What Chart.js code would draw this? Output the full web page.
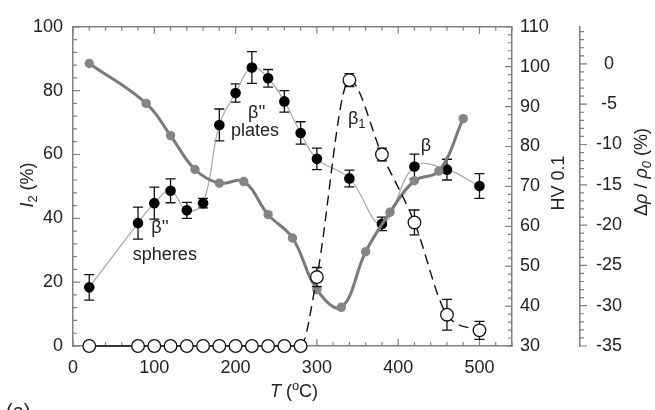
<!DOCTYPE html>
<html>
<head>
<meta charset="utf-8">
<script src="https://cdn.jsdelivr.net/npm/chart.js@4"></script>
<style>
  html, body { margin: 0; padding: 0; background: #fff; }
</style>
</head>
<body>
<canvas id="chart" width="655" height="410"></canvas>
<script>
// I2 (%) - open circles, dashed line (left axis)
const i2Temps = [20, 80, 100, 120, 140, 160, 180, 200, 220, 240, 260, 280, 300, 340, 380, 420, 460, 500];
const i2Values = [0, 0, 0, 0, 0, 0, 0, 0, 0, 0, 0, 0, 21.6, 83.3, 60, 38.7, 9.8, 4.9];
const i2Errors = [0, 0, 0, 0, 0, 0, 0, 0, 0, 0, 0, 0, 3, 2, 2, 3.9, 4.8, 2.8];

// HV 0.1 - black dots with error bars
const hvTemps = [20, 80, 100, 120, 140, 160, 180, 200, 220, 240, 260, 280, 300, 340, 380, 420, 460, 500];
const hvValues = [44.7, 60.8, 65.8, 68.9, 64.0, 65.8, 85.4, 93.4, 99.8, 97.1, 91.3, 83.4, 76.9, 72.0, 60.6, 75.0, 74.2, 70.1];
const hvErrors = [3.2, 4, 4, 3, 2, 1.2, 4, 2.3, 4, 2.2, 2.7, 2.8, 2.7, 2.1, 1.7, 3.1, 2.6, 3.1];

// resistivity change (%) - grey line
const rhoTemps = [20, 90, 120, 150, 180, 210, 240, 270, 300, 330, 360, 390, 420, 450, 480];
const rhoValues = [0.05, -4.9, -8.9, -13.1, -14.8, -14.6, -18.7, -21.6, -28.0, -30.2, -23.3, -18.4, -14.5, -13.3, -6.8];

// text labels inside the plot (T, I2 position)
const notes = [
  { text: "β''", sub: "", t: 107, v: 37 },
  { text: "spheres", sub: "", t: 113, v: 28.4 },
  { text: "β''", sub: "", t: 226, v: 73 },
  { text: "plates", sub: "", t: 224, v: 67.4 },
  { text: "β", sub: "1", t: 349, v: 71 },
  { text: "β", sub: "", t: 434, v: 62.6 }
];

const FONT = "'Liberation Sans', Arial, sans-serif";
const AXIS = "#808080";
const TEXT = "#222";

const pts = (xs, ys) => xs.map((x, i) => ({ x: x, y: ys[i] }));

// error bars, drawn just before each dataset
const errorBars = {
  id: "errorBars",
  beforeDatasetDraw(chart, args) {
    const ds = chart.data.datasets[args.index];
    if (!ds.errors) return;
    const ctx = chart.ctx;
    const xs = chart.scales.x, ys = chart.scales[ds.yAxisID];
    ctx.save();
    ctx.strokeStyle = "#111";
    ctx.lineWidth = 1.3;
    ds.data.forEach((p, i) => {
      const e = ds.errors[i];
      if (!e) return;
      const px = xs.getPixelForValue(p.x);
      const top = ys.getPixelForValue(p.y + e);
      const bot = ys.getPixelForValue(p.y - e);
      ctx.beginPath();
      ctx.moveTo(px, top); ctx.lineTo(px, bot);
      ctx.moveTo(px - 5, top); ctx.lineTo(px + 5, top);
      ctx.moveTo(px - 5, bot); ctx.lineTo(px + 5, bot);
      ctx.stroke();
    });
    ctx.restore();
  }
};

// inward major/minor ticks and top frame line (under the data)
const tickMarks = {
  id: "tickMarks",
  beforeDatasetsDraw(chart) {
    const { ctx, chartArea: a, scales } = chart;
    ctx.save();
    ctx.strokeStyle = AXIS;
    ctx.lineWidth = 1.5;
    ctx.beginPath();
    ctx.moveTo(a.left, a.top); ctx.lineTo(a.right, a.top);
    ctx.stroke();
    ctx.lineWidth = 1.2;
    const each = (scale, step, major, fn) => {
      const start = Math.ceil(scale.min / step - 1e-9);
      const end = Math.floor(scale.max / step + 1e-9);
      for (let k = start; k <= end; k++) {
        const v = k * step;
        const isMajor = Math.abs(v / major - Math.round(v / major)) < 1e-6;
        fn(scale.getPixelForValue(v), isMajor ? 7 : 4);
      }
    };
    ctx.beginPath();
    each(scales.x, 20, 100, (p, len) => {
      ctx.moveTo(p, a.bottom); ctx.lineTo(p, a.bottom - len);
      ctx.moveTo(p, a.top); ctx.lineTo(p, a.top + len);
    });
    each(scales.y, 4, 20, (p, len) => {
      ctx.moveTo(a.left, p); ctx.lineTo(a.left + len, p);
    });
    each(scales.hv, 2, 10, (p, len) => {
      ctx.moveTo(a.right, p); ctx.lineTo(a.right - len, p);
    });
    const r = scales.rho;
    each(r, 1, 5, (p, len) => {
      ctx.moveTo(r.left, p); ctx.lineTo(r.left + len, p);
    });
    ctx.stroke();
    ctx.restore();
  }
};

// draw a run of text pieces with mixed styles, centred on (0,0)
function drawPieces(ctx, pieces) {
  let total = 0;
  pieces.forEach(p => {
    ctx.font = p.font;
    p.w = ctx.measureText(p.t).width;
    total += p.w;
  });
  let x = -total / 2;
  pieces.forEach(p => {
    ctx.font = p.font;
    ctx.fillText(p.t, x, p.dy || 0);
    x += p.w;
  });
}

const textLayer = {
  id: "textLayer",
  afterDraw(chart) {
    const { ctx, scales } = chart;
    const n = "18px " + FONT, it = "italic 18px " + FONT, sm = "13px " + FONT, ism = "italic 13px " + FONT;
    ctx.save();
    ctx.fillStyle = TEXT;
    ctx.textBaseline = "middle";
    ctx.textAlign = "left";

    notes.forEach(nt => {
      ctx.save();
      ctx.translate(scales.x.getPixelForValue(nt.t), scales.y.getPixelForValue(nt.v));
      const pieces = [{ t: nt.text, font: n }];
      if (nt.sub) pieces.push({ t: nt.sub, font: sm, dy: 5 });
      drawPieces(ctx, pieces);
      ctx.restore();
    });

    // left title
    ctx.save();
    ctx.translate(28, 185);
    ctx.rotate(-Math.PI / 2);
    drawPieces(ctx, [{ t: "I", font: it }, { t: "2", font: sm, dy: 5 }, { t: " (%)", font: n }]);
    ctx.restore();

    // HV title
    ctx.save();
    ctx.translate(559, 183);
    ctx.rotate(-Math.PI / 2);
    drawPieces(ctx, [{ t: "HV 0.1", font: n }]);
    ctx.restore();

    // resistivity title
    ctx.save();
    ctx.translate(642, 172);
    ctx.rotate(-Math.PI / 2);
    drawPieces(ctx, [
      { t: "Δ", font: n }, { t: "ρ", font: it }, { t: " / ", font: n },
      { t: "ρ", font: it }, { t: "0", font: ism, dy: 5 }, { t: " (%)", font: n }
    ]);
    ctx.restore();

    // bottom title
    ctx.save();
    ctx.translate(294, 392);
    drawPieces(ctx, [
      { t: "T", font: it }, { t: " (", font: n }, { t: "o", font: sm, dy: -6 }, { t: "C)", font: n }
    ]);
    ctx.restore();

    // panel letter, cut at the bottom edge
    ctx.font = "20px " + FONT;
    ctx.fillText("(a)", 6, 412);
    ctx.restore();
  }
};

const tickFont = { family: FONT, size: 18 };

new Chart(document.getElementById("chart"), {
  type: "line",
  data: {
    datasets: [
      {
        label: "I2",
        data: pts(i2Temps, i2Values),
        errors: i2Errors,
        yAxisID: "y",
        clip: false,
        borderColor: "#111",
        borderWidth: 1.4,
        cubicInterpolationMode: "monotone",
        segment: { borderDash: c => (c.p0.parsed.x >= 280 ? [10, 6] : undefined) },
        pointRadius: 6.3,
        pointBackgroundColor: "#fff",
        pointBorderColor: "#111",
        pointBorderWidth: 1.3
      },
      {
        label: "rho",
        data: pts(rhoTemps, rhoValues),
        yAxisID: "rho",
        clip: false,
        borderColor: "#7a7a7a",
        borderWidth: 3,
        tension: 0.4,
        pointRadius: 4.7,
        pointBackgroundColor: "#858585",
        pointBorderColor: "#858585",
        pointBorderWidth: 0
      },
      {
        label: "HV",
        data: pts(hvTemps, hvValues),
        errors: hvErrors,
        yAxisID: "hv",
        clip: false,
        borderColor: "#a8a8a8",
        borderWidth: 1.2,
        tension: 0.4,
        pointRadius: 5.3,
        pointBackgroundColor: "#000",
        pointBorderColor: "#000",
        pointBorderWidth: 0
      }
    ]
  },
  options: {
    responsive: false,
    animation: false,
    devicePixelRatio: 1,
    layout: { padding: { top: 18, left: 0, right: 0, bottom: 0 } },
    plugins: { legend: { display: false }, tooltip: { enabled: false } },
    scales: {
      x: {
        type: "linear", position: "bottom", min: 0, max: 540,
        ticks: { stepSize: 100, includeBounds: false, padding: 11, color: TEXT, font: tickFont },
        grid: { display: false, drawTicks: false },
        border: { color: AXIS, width: 1.5 },
        afterFit(s) { s.height = 64; }
      },
      y: {
        position: "left", min: 0, max: 100,
        ticks: { stepSize: 20, padding: 10, color: TEXT, font: tickFont },
        grid: { display: false, drawTicks: false },
        border: { color: AXIS, width: 1.5 },
        afterFit(s) { s.width = 73; }
      },
      hv: {
        position: "right", min: 30, max: 110,
        ticks: { stepSize: 10, padding: 8, color: TEXT, font: tickFont },
        grid: { display: false, drawTicks: false },
        border: { color: AXIS, width: 1.5 },
        afterFit(s) { s.width = 68; }
      },
      rho: {
        position: "right", min: -35, max: 4.6,
        ticks: { stepSize: 5, includeBounds: false, padding: 16, crossAlign: "center", color: TEXT, font: tickFont },
        grid: { display: false, drawTicks: false },
        border: { color: AXIS, width: 1.5 },
        afterFit(s) { s.width = 75; }
      }
    }
  },
  plugins: [errorBars, tickMarks, textLayer]
});
</script>
</body>
</html>
